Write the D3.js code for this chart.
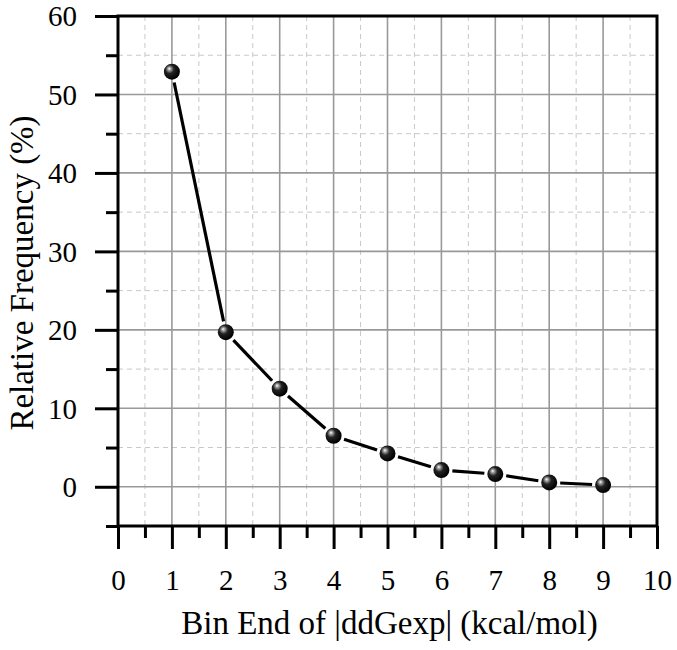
<!DOCTYPE html>
<html>
<head>
<meta charset="utf-8">
<script src="https://cdn.jsdelivr.net/npm/d3@7"></script>
<style>
  html, body { margin: 0; padding: 0; background: #fff; }
  svg { display: block; }
  text { font-family: "Liberation Serif", "Times New Roman", serif; fill: #000; }
</style>
</head>
<body>
<svg id="chart" width="677" height="650"></svg>
<script>
// ---- data ----
const binEnds = [1, 2, 3, 4, 5, 6, 7, 8, 9];
const relFreq = [52.9, 19.7, 12.5, 6.5, 4.25, 2.13, 1.62, 0.55, 0.22];
const xTicks = [0, 1, 2, 3, 4, 5, 6, 7, 8, 9, 10];
const yTicks = [0, 10, 20, 30, 40, 50, 60];
const xMinorTicks = [0.5, 1.5, 2.5, 3.5, 4.5, 5.5, 6.5, 7.5, 8.5, 9.5];
const yMinorTicks = [-5, 5, 15, 25, 35, 45, 55];
const xTitle = "Bin End of |ddGexp| (kcal/mol)";
const yTitle = "Relative Frequency (%)";

// ---- layout ----
const L = 118, R = 657, T = 16, B = 526;
const svg = d3.select("#chart");
const x = d3.scaleLinear().domain([0, 10]).range([L, R]);
const y = d3.scaleLinear().domain([-5, 60]).range([B, T]);

const defs = svg.append("defs");
const grad = defs.append("radialGradient").attr("id", "ball")
  .attr("cx", "0.4").attr("cy", "0.4").attr("r", "0.6")
  .attr("fx", "0.33").attr("fy", "0.3");
grad.append("stop").attr("offset", "0").attr("stop-color", "#ffffff");
grad.append("stop").attr("offset", "0.18").attr("stop-color", "#9a9a9a");
grad.append("stop").attr("offset", "0.45").attr("stop-color", "#222");
grad.append("stop").attr("offset", "1").attr("stop-color", "#000");

// ---- grid ----
const grid = svg.append("g");
grid.selectAll(".xminor").data(xMinorTicks).join("line")
  .attr("x1", d => x(d)).attr("x2", d => x(d)).attr("y1", T).attr("y2", B)
  .attr("stroke", "#c8c8c8").attr("stroke-width", 1).attr("stroke-dasharray", "5,4");
grid.selectAll(".yminor").data(yMinorTicks.filter(d => d > -5)).join("line")
  .attr("y1", d => y(d)).attr("y2", d => y(d)).attr("x1", L).attr("x2", R)
  .attr("stroke", "#c8c8c8").attr("stroke-width", 1).attr("stroke-dasharray", "5,4");
grid.selectAll(".xmajor").data(xTicks.filter(d => d > 0 && d < 10)).join("line")
  .attr("x1", d => x(d)).attr("x2", d => x(d)).attr("y1", T).attr("y2", B)
  .attr("stroke", "#999").attr("stroke-width", 1.6);
grid.selectAll(".ymajor").data(yTicks.filter(d => d < 60)).join("line")
  .attr("y1", d => y(d)).attr("y2", d => y(d)).attr("x1", L).attr("x2", R)
  .attr("stroke", "#999").attr("stroke-width", 1.6);

// ---- axes ----
const xAxis = d3.axisBottom(x).tickValues(xTicks).tickSize(23).tickPadding(0).tickFormat(d3.format("d"));
const xAxisMinor = d3.axisBottom(x).tickValues(xMinorTicks).tickSize(12).tickFormat("");
const yAxis = d3.axisLeft(y).tickValues(yTicks).tickSize(23).tickPadding(0).tickFormat(d3.format("d"));
const yAxisMinor = d3.axisLeft(y).tickValues(yMinorTicks).tickSize(12).tickFormat("");

function styleAxis(g) {
  g.select(".domain").remove();
  g.selectAll(".tick line").attr("stroke", "#000").attr("stroke-width", 3);
}
svg.append("g").attr("transform", `translate(0,${B})`).call(xAxisMinor).call(styleAxis);
const gx = svg.append("g").attr("transform", `translate(0,${B})`).call(xAxis).call(styleAxis);
gx.selectAll(".tick text").attr("y", 64).attr("dy", null)
  .style("font-family", "Liberation Serif, serif").style("font-size", "29px").attr("fill", "#000");

svg.append("g").attr("transform", `translate(${L},0)`).call(yAxisMinor).call(styleAxis);
const gy = svg.append("g").attr("transform", `translate(${L},0)`).call(yAxis).call(styleAxis);
gy.selectAll(".tick text").attr("x", -41).attr("dy", "0.34em")
  .style("font-family", "Liberation Serif, serif").style("font-size", "29px").attr("fill", "#000");

// frame
svg.append("rect").attr("x", L).attr("y", T).attr("width", R - L).attr("height", B - T)
  .attr("fill", "none").attr("stroke", "#000").attr("stroke-width", 3);

// ---- line segments (with gaps at markers) ----
const pts = binEnds.map((b, i) => [x(b), y(relFreq[i])]);
const r = 8, gap = 3;
const segs = d3.pairs(pts).map(([a, b]) => {
  const dx = b[0] - a[0], dy = b[1] - a[1], len = Math.hypot(dx, dy);
  const k = (r + gap) / len;
  return [a[0] + dx * k, a[1] + dy * k, b[0] - dx * k, b[1] - dy * k];
});
svg.append("g").selectAll("line").data(segs).join("line")
  .attr("x1", d => d[0]).attr("y1", d => d[1]).attr("x2", d => d[2]).attr("y2", d => d[3])
  .attr("stroke", "#000").attr("stroke-width", 3.2);

svg.append("g").selectAll("circle").data(binEnds).join("circle")
  .attr("cx", (d) => x(d)).attr("cy", (d, i) => y(relFreq[i])).attr("r", r)
  .attr("fill", "url(#ball)");

// ---- titles ----
svg.append("text").attr("x", (L + R) / 2 + 2).attr("y", 634).attr("text-anchor", "middle")
  .style("font-size", "33px").text(xTitle);
svg.append("text").attr("transform", `translate(33,${(T + B) / 2 + 2}) rotate(-90)`)
  .attr("text-anchor", "middle").style("font-size", "33px").text(yTitle);
</script>
</body>
</html>
